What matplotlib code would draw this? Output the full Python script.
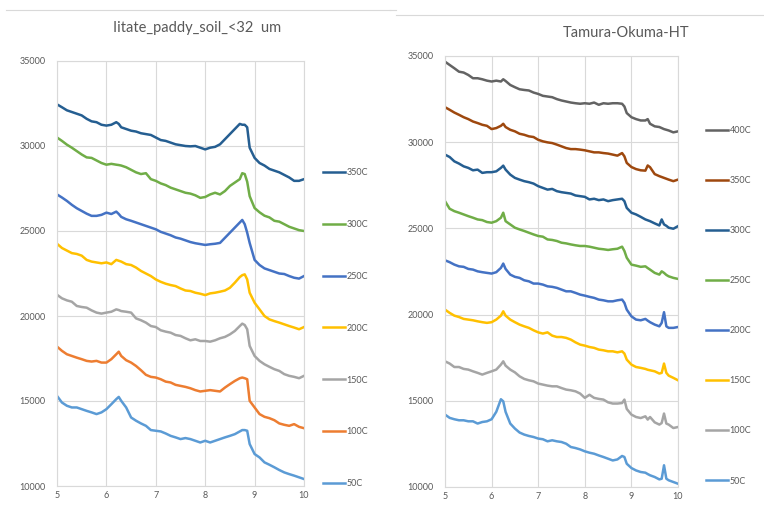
import numpy as np
import matplotlib
matplotlib.use("Agg")
import matplotlib.pyplot as plt
from matplotlib.lines import Line2D

plt.rcParams["font.family"] = ["Lato", "DejaVu Sans"]

# Left chart: Iitate paddy soil, 2-theta grid
x_left = [5.0, 5.1, 5.2, 5.3, 5.4, 5.5, 5.6, 5.7, 5.8, 5.9, 6.0, 6.1, 6.2, 6.25,
          6.3, 6.4, 6.5, 6.6, 6.7, 6.8, 6.9, 7.0, 7.1, 7.2, 7.3, 7.4, 7.5, 7.6,
          7.7, 7.8, 7.9, 8.0, 8.1, 8.2, 8.3, 8.4, 8.5, 8.6, 8.7, 8.75, 8.8, 8.85,
          8.9, 9.0, 9.1, 9.2, 9.3, 9.4, 9.5, 9.6, 9.7, 9.8, 9.9, 10.0]

left_50C = [15300, 14910, 14720, 14620, 14620, 14520, 14420, 14330, 14230, 14330,
            14520, 14810, 15110, 15240, 15010, 14620, 14030, 13840, 13680, 13540,
            13290, 13250, 13210, 13090, 12950, 12860, 12760, 12820, 12760, 12660,
            12560, 12660, 12560, 12660, 12760, 12860, 12950, 13050, 13210, 13290,
            13290, 13250, 12470, 11880, 11680, 11390, 11250, 11100, 10940, 10800,
            10700, 10610, 10510, 10410]
left_100C = [18200, 17950, 17750, 17650, 17550, 17460, 17360, 17320, 17360, 17260,
             17260, 17460, 17750, 17900, 17650, 17400, 17260, 17060, 16810, 16540,
             16420, 16380, 16280, 16140, 16090, 15950, 15890, 15830, 15750, 15640,
             15560, 15600, 15640, 15600, 15560, 15790, 15990, 16180, 16340, 16380,
             16340, 16280, 15010, 14620, 14230, 14070, 13990, 13870, 13680, 13600,
             13540, 13640, 13480, 13400]
left_150C = [21250, 21040, 20920, 20840, 20590, 20530, 20490, 20330, 20200, 20140,
             20200, 20250, 20390, 20350, 20290, 20250, 20200, 19860, 19750, 19610,
             19410, 19350, 19160, 19080, 19020, 18880, 18830, 18690, 18570, 18630,
             18530, 18530, 18490, 18570, 18690, 18770, 18920, 19120, 19410, 19550,
             19470, 19220, 18240, 17650, 17360, 17160, 17010, 16870, 16770, 16580,
             16480, 16420, 16340, 16480]
left_200C = [24250, 24000, 23850, 23700, 23650, 23550, 23300, 23200, 23150, 23100,
             23150, 23050, 23300, 23250, 23200, 23050, 23000, 22850, 22650, 22500,
             22350, 22150, 22010, 21900, 21820, 21760, 21620, 21500, 21470, 21370,
             21310, 21230, 21330, 21370, 21430, 21500, 21660, 21960, 22290, 22400,
             22450, 22150, 21370, 20780, 20390, 20000, 19800, 19700, 19610, 19510,
             19410, 19320, 19220, 19350]
left_250C = [27150, 26970, 26770, 26540, 26340, 26180, 26020, 25890, 25890, 25950,
             26080, 26000, 26140, 26000, 25830, 25690, 25600, 25500, 25400, 25300,
             25200, 25100, 24950, 24850, 24750, 24620, 24550, 24450, 24350, 24280,
             24230, 24180, 24220, 24250, 24300, 24600, 24900, 25200, 25500, 25650,
             25400, 24900, 24300, 23300, 23000, 22800, 22700, 22600, 22500, 22470,
             22350, 22250, 22200, 22350]
left_300C = [30500, 30300, 30080, 29900, 29700, 29500, 29330, 29300, 29150, 29000,
             28900, 28950, 28900, 28880, 28850, 28750, 28600, 28450, 28350, 28400,
             28050, 27950, 27800, 27700, 27550, 27450, 27350, 27250, 27200, 27100,
             26950, 27000, 27150, 27250, 27150, 27350, 27650, 27850, 28050, 28400,
             28350, 27900, 27050, 26350, 26100, 25900, 25800, 25600, 25550, 25400,
             25250, 25150, 25050, 25000]
left_350C = [32450, 32280, 32100, 32000, 31900, 31800, 31600, 31450, 31400, 31250,
             31200, 31250, 31400, 31300, 31100, 31000, 30900, 30850, 30750, 30700,
             30650, 30500, 30350, 30300, 30200, 30100, 30050, 30000, 29980, 30000,
             29900, 29800, 29900, 29950, 30100, 30400, 30700, 31000, 31300, 31250,
             31250, 31100, 29900, 29300, 29000, 28850, 28650, 28550, 28450, 28300,
             28150, 27950, 27950, 28050]

# Right chart: Tamura-Okuma-HT
x_right = [5.0, 5.1, 5.2, 5.3, 5.4, 5.5, 5.6, 5.7, 5.8, 5.9, 6.0, 6.1, 6.2, 6.25,
           6.3, 6.4, 6.5, 6.6, 6.7, 6.8, 6.9, 7.0, 7.1, 7.2, 7.3, 7.4, 7.5, 7.6,
           7.7, 7.8, 7.9, 8.0, 8.1, 8.2, 8.3, 8.4, 8.5, 8.6, 8.7, 8.8, 8.85, 8.9,
           9.0, 9.1, 9.2, 9.3, 9.35, 9.4, 9.5, 9.6, 9.65, 9.7, 9.75, 9.8, 9.9, 10.0]

right_50C = [14200, 14010, 13930, 13870, 13870, 13810, 13810, 13680, 13770, 13810,
             13930, 14360, 15090, 14970, 14360, 13680, 13390, 13160, 13040, 12960,
             12900, 12810, 12770, 12650, 12710, 12650, 12610, 12510, 12320, 12260,
             12180, 12070, 11990, 11930, 11830, 11740, 11640, 11540, 11600, 11800,
             11740, 11350, 11100, 10960, 10870, 10830, 10750, 10680, 10580, 10440,
             10480, 11260, 10480, 10390, 10290, 10190]
right_100C = [17290, 17160, 16960, 16960, 16850, 16810, 16710, 16620, 16520, 16620,
              16710, 16810, 17100, 17290, 17040, 16810, 16650, 16420, 16270, 16190,
              16130, 16000, 15940, 15880, 15840, 15840, 15740, 15650, 15610, 15550,
              15420, 15170, 15350, 15170, 15110, 15070, 14910, 14840, 14840, 14870,
              15070, 14530, 14200, 14060, 14000, 14100, 13910, 14060, 13750, 13620,
              13710, 14260, 13680, 13620, 13420, 13480]
right_150C = [20290, 20100, 19940, 19860, 19750, 19710, 19670, 19610, 19560, 19520,
              19560, 19710, 19940, 20190, 19940, 19710, 19560, 19420, 19320, 19230,
              19090, 18970, 18900, 18970, 18780, 18700, 18700, 18650, 18550, 18390,
              18260, 18200, 18120, 18070, 17970, 17930, 17870, 17870, 17810, 17870,
              17740, 17390, 17100, 16960, 16910, 16850, 16800, 16770, 16710, 16580,
              16620, 17160, 16620, 16460, 16330, 16190]
right_200C = [23150, 23040, 22900, 22800, 22770, 22650, 22610, 22510, 22460, 22420,
              22380, 22460, 22710, 22960, 22650, 22320, 22190, 22130, 21990, 21930,
              21800, 21800, 21740, 21640, 21610, 21550, 21450, 21350, 21350, 21260,
              21160, 21100, 21030, 20970, 20870, 20830, 20770, 20770, 20830, 20870,
              20680, 20290, 19900, 19710, 19670, 19750, 19650, 19560, 19420, 19320,
              19520, 20140, 19320, 19230, 19230, 19280]
right_250C = [26580, 26140, 26000, 25910, 25810, 25710, 25620, 25520, 25480, 25370,
              25330, 25420, 25620, 25910, 25420, 25230, 25040, 24940, 24850, 24750,
              24650, 24560, 24520, 24360, 24330, 24270, 24170, 24130, 24070, 24020,
              23980, 23980, 23940, 23880, 23820, 23790, 23750, 23790, 23820, 23940,
              23690, 23300, 22900, 22840, 22770, 22800, 22700, 22610, 22420, 22320,
              22510, 22420, 22300, 22220, 22130, 22070]
right_300C = [29280, 29140, 28890, 28760, 28600, 28510, 28370, 28410, 28220, 28260,
              28260, 28310, 28510, 28640, 28410, 28120, 27930, 27830, 27740, 27680,
              27600, 27450, 27350, 27250, 27290, 27160, 27100, 27060, 27020, 26910,
              26870, 26830, 26680, 26720, 26640, 26680, 26580, 26640, 26680, 26720,
              26580, 26190, 25910, 25810, 25670, 25520, 25470, 25420, 25290, 25170,
              25520, 25230, 25150, 25040, 24980, 25130]
right_350C = [32030, 31880, 31720, 31590, 31450, 31340, 31200, 31110, 31010, 30950,
              30760, 30820, 30950, 31070, 30880, 30720, 30630, 30490, 30430, 30340,
              30300, 30140, 30050, 29990, 29950, 29860, 29760, 29660, 29600, 29600,
              29570, 29530, 29470, 29410, 29410, 29370, 29340, 29280, 29220, 29370,
              29180, 28800, 28560, 28440, 28370, 28350, 28650, 28550, 28150, 28030,
              27980, 27930, 27880, 27830, 27740, 27830]
right_400C = [34670, 34480, 34290, 34090, 34040, 33900, 33710, 33710, 33650, 33570,
              33520, 33570, 33520, 33650, 33550, 33320, 33190, 33070, 33030, 33000,
              32880, 32800, 32690, 32650, 32610, 32500, 32420, 32360, 32300, 32260,
              32230, 32260, 32230, 32300, 32170, 32260, 32230, 32260, 32260, 32230,
              32070, 31690, 31450, 31340, 31260, 31260, 31340, 31070, 30920, 30880,
              30820, 30760, 30720, 30680, 30570, 30630]

left_series = [("50C", left_50C, "#5B9BD5"), ("100C", left_100C, "#ED7D31"),
               ("150C", left_150C, "#A5A5A5"), ("200C", left_200C, "#FFC000"),
               ("250C", left_250C, "#4472C4"), ("300C", left_300C, "#70AD47"),
               ("350C", left_350C, "#255E91")]
right_series = [("50C", right_50C, "#5B9BD5"), ("100C", right_100C, "#A5A5A5"),
                ("150C", right_150C, "#FFC000"), ("200C", right_200C, "#4472C4"),
                ("250C", right_250C, "#70AD47"), ("300C", right_300C, "#255E91"),
                ("350C", right_350C, "#9E480E"), ("400C", right_400C, "#636363")]

TXT = "#595959"
GRID = "#d9d9d9"

fig = plt.figure(figsize=(7.64, 5.23), dpi=100)


def draw_panel(rect, x, series, title, title_xy, leg_anchor, spacing):
    ax = fig.add_axes(rect)
    for name, y, color in series:
        ax.plot(x, y, color=color, lw=1.8, label=name, solid_joinstyle="round")
    ax.set_xlim(5, 10)
    ax.set_ylim(10000, 35000)
    ax.set_xticks([5, 6, 7, 8, 9, 10])
    ax.set_yticks(np.arange(10000, 35001, 5000))
    ax.grid(True, color=GRID, lw=0.8)
    ax.set_axisbelow(True)
    for s in ax.spines.values():
        s.set_color(GRID)
        s.set_linewidth(0.8)
    ax.tick_params(axis="y", pad=8)
    ax.tick_params(length=0, labelsize=6.5, colors=TXT)
    fig.text(title_xy[0], title_xy[1], title, ha="center", va="center",
             fontsize=10.5, color=TXT)
    handles, labels = ax.get_legend_handles_labels()
    ax.legend(handles[::-1], labels[::-1], loc="upper left",
              bbox_to_anchor=leg_anchor, bbox_transform=fig.transFigure,
              frameon=False, fontsize=6.5, labelcolor=TXT, handlelength=2.4,
              handletextpad=0.2, labelspacing=spacing, borderpad=0,
              borderaxespad=0)
    return ax


W, H = 764, 523
draw_panel([57 / W, 1 - 486 / H, 247 / W, 425 / H], x_left, left_series,
           "Iitate_paddy_soil_<32  um", (197 / W, 1 - 28 / H),
           (323 / W, 1 - 168 / H), 4.75)
draw_panel([445 / W, 1 - 487 / H, 233 / W, 431 / H], x_right, right_series,
           "Tamura-Okuma-HT", (626 / W, 1 - 33 / H),
           (706 / W, 1 - 126 / H), 4.55)

# chart area borders
fig.add_artist(Line2D([6 / W, 390 / W], [1 - 10 / H, 1 - 10 / H], color=GRID, lw=0.8))
fig.add_artist(Line2D([390 / W, 396 / W], [1 - 10 / H, 1 - 10 / H], color=GRID, lw=0.8))
fig.add_artist(Line2D([396 / W, 764 / W], [1 - 15 / H, 1 - 15 / H], color=GRID, lw=0.8))

fig.savefig("out.png", dpi=100, facecolor="white")
